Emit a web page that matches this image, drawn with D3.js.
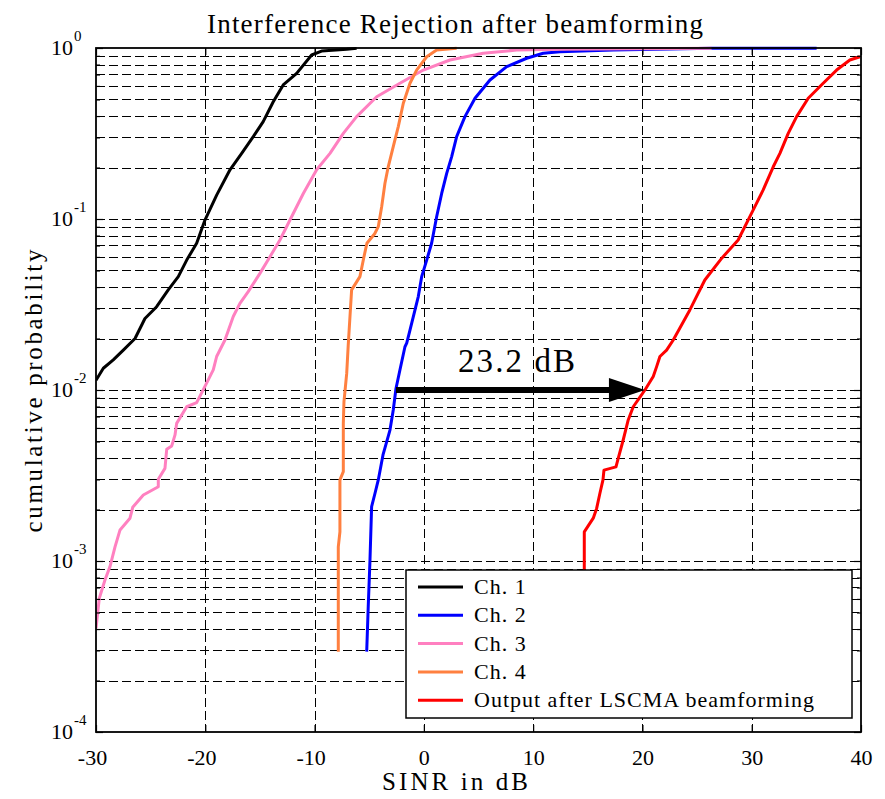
<!DOCTYPE html>
<html>
<head>
<meta charset="utf-8">
<script src="https://cdn.jsdelivr.net/npm/d3@7"></script>
<style>
body { margin: 0; background: #fff; }
text { font-family: "Liberation Serif", "Times New Roman", serif; fill: #000; }
</style>
</head>
<body>
<script>
// axis ticks
var xTicks = [-30, -20, -10, 0, 10, 20, 30, 40];
var yDecades = [1e-4, 1e-3, 1e-2, 1e-1, 1];
var yExponents = ["-4", "-3", "-2", "-1", "0"];

// legend names
var seriesNames = ["Ch. 1", "Ch. 2", "Ch. 3", "Ch. 4", "Output after LSCMA beamforming"];

// Ch. 1
var ch1Sinr = [-30, -29.33, -28.42, -27.5, -26.43, -25.52, -24.45, -23.39, -22.47, -21.7, -20.79, -20.03,
    -18.96, -17.74, -16.67, -15.61, -14.7, -13.78, -12.87, -11.64, -10.27, -9.36, -7.06, -6.15];
var ch1Prob = [0.0114, 0.0134, 0.0150, 0.0171, 0.0200, 0.0262, 0.0307, 0.0385, 0.0460, 0.0575, 0.0721, 0.0986,
    0.138, 0.194, 0.242, 0.303, 0.371, 0.485, 0.608, 0.711, 0.910, 0.959, 0.982, 0.995];

// Ch. 2
var ch2Sinr = [-5.23, -5.09, -4.93, -4.78, -4.47, -4.17, -3.74, -3.10, -2.80, -2.55, -2.19, -1.73, -1.57, -1.27,
    -0.81, -0.51, -0.20, 0.26, 0.71, 1.17, 1.63, 2.09, 2.54, 3.00, 3.76, 4.68, 6.05, 7.58, 9.41, 10.92, 12.45,
    17.33, 26.33, 35.94];
var ch2Prob = [2.95e-4, 5.41e-4, 1.01e-3, 2.08e-3, 2.49e-3, 2.98e-3, 4.17e-3, 5.83e-3, 7.64e-3, 0.0102, 0.0131,
    0.0179, 0.0188, 0.0224, 0.0294, 0.0352, 0.0460, 0.0575, 0.0721, 0.103, 0.141, 0.185, 0.231, 0.303, 0.397,
    0.508, 0.650, 0.778, 0.871, 0.931, 0.951, 0.973, 0.996, 0.998];

// Ch. 3
var ch3Sinr = [-30, -29.70, -29.18, -28.72, -28.26, -27.80, -26.89, -26.64, -25.67, -24.30, -24.30, -23.69,
    -23.53, -23.07, -22.77, -22.62, -21.70, -20.79, -20.03, -19.27, -18.96, -18.20, -17.44, -16.83, -16.07,
    -15.00, -14.08, -13.17, -12.25, -11.03, -9.81, -8.59, -7.37, -6.15, -4.32, -2.19, -0.05, 2.39, 5.43, 8.49,
    12.45, 26.33];
var ch3Prob = [4.04e-4, 6.05e-4, 7.74e-4, 9.27e-4, 1.21e-3, 1.52e-3, 1.78e-3, 2.06e-3, 2.43e-3, 2.72e-3,
    3.01e-3, 3.48e-3, 4.50e-3, 4.71e-3, 5.46e-3, 6.38e-3, 7.98e-3, 8.43e-3, 0.0105, 0.0131, 0.0157, 0.0196,
    0.0269, 0.0321, 0.0376, 0.0481, 0.0602, 0.0754, 0.0986, 0.141, 0.194, 0.242, 0.317, 0.397, 0.519, 0.622,
    0.743, 0.851, 0.931, 0.973, 0.983, 0.996];

// Ch. 4
var ch4Sinr = [-7.83, -7.83, -7.68, -7.68, -7.37, -7.37, -7.37, -7.31, -7.06, -6.92, -6.76, -6.61, -5.85, -5.48,
    -5.21, -4.50, -4.17, -3.86, -3.56, -3.26, -2.80, -2.34, -1.88, -1.27, -0.66, 0.26, 1.17, 3.00];
var ch4Prob = [2.95e-4, 1.21e-3, 1.48e-3, 2.98e-3, 3.33e-3, 5.10e-3, 6.38e-3, 8.55e-3, 0.0125, 0.0183, 0.0269,
    0.0385, 0.0460, 0.0602, 0.0721, 0.0820, 0.0902, 0.118, 0.162, 0.202, 0.265, 0.347, 0.475, 0.622, 0.743,
    0.889, 0.973, 0.996];

// output after LSCMA beamforming
var outSinr = [14.68, 14.68, 14.68, 15.50, 15.81, 16.11, 16.39, 16.48, 17.58, 17.79, 18.24, 18.70, 19.16, 19.71,
    20.23, 20.99, 21.30, 21.60, 22.21, 22.82, 24.34, 25.71, 27.28, 28.76, 30.14, 31.05, 31.97, 32.58, 33.34,
    34.11, 35.17, 36.54, 37.77, 38.98, 39.90];
var outProb = [3.0e-4, 8.85e-4, 1.48e-3, 1.78e-3, 2.03e-3, 2.49e-3, 2.98e-3, 3.40e-3, 3.55e-3, 3.99e-3, 5.10e-3,
    6.68e-3, 7.98e-3, 8.95e-3, 0.0100, 0.0120, 0.0137, 0.0157, 0.0171, 0.0196, 0.0294, 0.0440, 0.0592, 0.0754,
    0.113, 0.148, 0.202, 0.242, 0.317, 0.397, 0.508, 0.622, 0.743, 0.851, 0.889];

// the 23.2 dB gap arrow
var arrowFrom = -2.55, arrowTo = 20.23, arrowProb = 0.01;

var seriesColors = ["#000000", "#0000ff", "#ff80c0", "#ff8040", "#ff0000"];

function drawChart() {
    var width = 885,
        height = 799;
    // plot box in pixels
    var pLeft = 96, pRight = 861, pTop = 48, pBottom = 732;

    var x = d3.scaleLinear().domain([-30, 40]).range([pLeft, pRight]);
    var y = d3.scaleLog().domain([1e-4, 1]).range([pBottom, pTop]);

    // minor values for log grid
    var yMinor = [];
    for (var d = -4; d < 0; d++) {
        for (var k = 2; k <= 9; k++) yMinor.push(k * Math.pow(10, d));
    }

    var svg = d3.select("body").append("svg")
        .attr("width", width)
        .attr("height", height);

    // grid
    var grid = svg.append("g")
        .attr("stroke", "#000")
        .attr("stroke-width", 1)
        .attr("stroke-dasharray", "9,4");
    grid.selectAll("line.gx")
        .data(xTicks.slice(1, -1))
        .enter().append("line")
        .attr("class", "gx")
        .attr("x1", function(d) { return Math.round(x(d)) + 0.5; })
        .attr("x2", function(d) { return Math.round(x(d)) + 0.5; })
        .attr("y1", pTop)
        .attr("y2", pBottom);
    grid.selectAll("line.gy")
        .data(yMinor.concat(yDecades.slice(1, -1)))
        .enter().append("line")
        .attr("class", "gy")
        .attr("x1", pLeft)
        .attr("x2", pRight)
        .attr("y1", function(d) { return Math.round(y(d)) + 0.5; })
        .attr("y2", function(d) { return Math.round(y(d)) + 0.5; });

    // curves
    svg.append("clipPath").attr("id", "plotclip")
        .append("rect")
        .attr("x", pLeft).attr("y", pTop - 2)
        .attr("width", pRight - pLeft + 2).attr("height", pBottom - pTop + 2);

    var series = [
        { xs: ch1Sinr, ps: ch1Prob },
        { xs: ch2Sinr, ps: ch2Prob },
        { xs: ch3Sinr, ps: ch3Prob },
        { xs: ch4Sinr, ps: ch4Prob },
        { xs: outSinr, ps: outProb }
    ];

    var line = d3.line()
        .x(function(d) { return x(d[0]); })
        .y(function(d) { return y(d[1]); });

    svg.append("g")
        .attr("clip-path", "url(#plotclip)")
        .selectAll("path")
        .data(series)
        .enter().append("path")
        .attr("d", function(s) { return line(d3.zip(s.xs, s.ps)); })
        .attr("fill", "none")
        .attr("stroke", function(s, i) { return seriesColors[i]; })
        .attr("stroke-width", 3)
        .attr("stroke-linejoin", "round");

    // axes with inward ticks on all four sides
    function tidy(g) {
        g.select(".domain").remove();
        g.selectAll(".tick line").attr("stroke", "#000").attr("stroke-width", 1.2);
    }

    var xBottom = svg.append("g")
        .attr("transform", "translate(0," + pBottom + ")")
        .call(d3.axisBottom(x).tickValues(xTicks).tickSize(-7).tickPadding(17)
            .tickFormat(function(d) { return d; }))
        .call(tidy);
    xBottom.selectAll(".tick text")
        .attr("font-size", 22)
        .attr("font-family", "Liberation Serif")
        .attr("dx", function(d) { return d < 0 ? -4 : 0; });

    svg.append("g")
        .attr("transform", "translate(0," + pTop + ")")
        .call(d3.axisTop(x).tickValues(xTicks).tickSize(-7).tickFormat(""))
        .call(tidy);

    svg.append("g")
        .attr("transform", "translate(" + pLeft + ",0)")
        .call(d3.axisLeft(y).tickValues(yDecades).tickSize(-7).tickFormat(""))
        .call(tidy);
    svg.append("g")
        .attr("transform", "translate(" + pLeft + ",0)")
        .call(d3.axisLeft(y).tickValues(yMinor).tickSize(-4).tickFormat(""))
        .call(tidy);
    svg.append("g")
        .attr("transform", "translate(" + pRight + ",0)")
        .call(d3.axisRight(y).tickValues(yDecades).tickSize(-7).tickFormat(""))
        .call(tidy);
    svg.append("g")
        .attr("transform", "translate(" + pRight + ",0)")
        .call(d3.axisRight(y).tickValues(yMinor).tickSize(-4).tickFormat(""))
        .call(tidy);

    // power-of-ten labels
    var yLab = svg.append("g").selectAll("g")
        .data(yDecades)
        .enter().append("g")
        .attr("transform", function(d) { return "translate(0," + y(d) + ")"; });
    yLab.append("text")
        .attr("x", 73)
        .attr("y", 7)
        .attr("text-anchor", "end")
        .attr("font-size", 22)
        .text("10");
    yLab.append("text")
        .attr("x", 74)
        .attr("y", -7)
        .attr("font-size", 15)
        .text(function(d, i) { return yExponents[i]; });

    // frame
    svg.append("rect")
        .attr("x", pLeft).attr("y", pTop)
        .attr("width", pRight - pLeft).attr("height", pBottom - pTop)
        .attr("fill", "none")
        .attr("stroke", "#000")
        .attr("stroke-width", 1.8);

    // arrow
    var ay = y(arrowProb);
    svg.append("line")
        .attr("x1", x(arrowFrom)).attr("x2", x(arrowTo) - 30)
        .attr("y1", ay).attr("y2", ay)
        .attr("stroke", "#000")
        .attr("stroke-width", 6);
    svg.append("path")
        .attr("d", "M" + x(arrowTo) + "," + ay + "L" + (x(arrowTo) - 36) + "," + (ay - 12) +
            "L" + (x(arrowTo) - 36) + "," + (ay + 12) + "Z")
        .attr("fill", "#000");
    svg.append("text")
        .attr("x", 458)
        .attr("y", 372)
        .attr("font-size", 33)
        .attr("textLength", 117)
        .text("23.2 dB");

    // titles
    svg.append("text")
        .attr("x", 455)
        .attr("y", 33)
        .attr("text-anchor", "middle")
        .attr("font-size", 27)
        .attr("textLength", 496)
        .text("Interference Rejection after beamforming");
    svg.append("text")
        .attr("x", 455)
        .attr("y", 790)
        .attr("text-anchor", "middle")
        .attr("font-size", 25)
        .attr("textLength", 146)
        .text("SINR in dB");
    svg.append("text")
        .attr("transform", "translate(42,391) rotate(-90)")
        .attr("text-anchor", "middle")
        .attr("font-size", 25)
        .attr("textLength", 283)
        .text("cumulative probability");

    // legend
    var legend = svg.append("g");
    legend.append("rect")
        .attr("x", 406).attr("y", 570)
        .attr("width", 446).attr("height", 148)
        .attr("fill", "#fff")
        .attr("stroke", "#000")
        .attr("stroke-width", 1.5);
    var item = legend.selectAll("g")
        .data(seriesNames)
        .enter().append("g")
        .attr("transform", function(d, i) { return "translate(0," + (587 + i * 28.3) + ")"; });
    item.append("line")
        .attr("x1", 418).attr("x2", 463)
        .attr("stroke", function(d, i) { return seriesColors[i]; })
        .attr("stroke-width", 3);
    item.append("text")
        .attr("x", 474)
        .attr("y", 7)
        .attr("font-size", 22)
        .attr("letter-spacing", 1)
        .text(function(d) { return d; });
}

drawChart();
</script>
</body>
</html>
